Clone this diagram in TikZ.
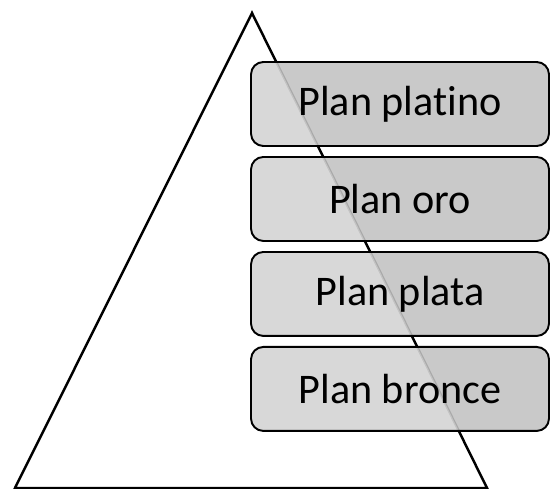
\documentclass[tikz,border=0pt]{standalone}
\usepackage{fontspec}
\setmainfont{Carlito}[Ligatures=NoCommon]
\usepackage{xcolor}
\usepackage{tikz}
\usetikzlibrary{positioning}

\definecolor{planfill}{RGB}{193,193,193}

\begin{document}
\begin{tikzpicture}[x=0.02cm,y=-0.02cm,node distance=0.22cm]
  \tikzstyle{pyramid}=[line width=1.4pt,draw=black]
  \tikzstyle{plan}=[rectangle,rounded corners=7pt,line width=1.1pt,draw=black,
    fill=planfill,fill opacity=0.88,text opacity=1,outer sep=0pt,
    minimum width=5.96cm,minimum height=1.68cm,
    font=\fontsize{24}{28}\selectfont,
    path picture={\fill[white,fill opacity=0.31] (apex) -- (left) -- (right) -- cycle;}]

  \useasboundingbox (0,0) rectangle (551,489);

  % Pyramid
  \coordinate (apex) at (252,13);
  \coordinate (left) at (15,488);
  \coordinate (right) at (487,488);
  \draw [pyramid] (apex) -- (left) -- (right) -- cycle;

  % Plans
  \node [plan] (platino) at (400,104) {Plan platino};
  \node [plan, below=of platino] (oro) {Plan oro};
  \node [plan, below=of oro] (plata) {Plan plata};
  \node [plan, below=of plata] (bronce) {Plan bronce};
\end{tikzpicture}
\end{document}
